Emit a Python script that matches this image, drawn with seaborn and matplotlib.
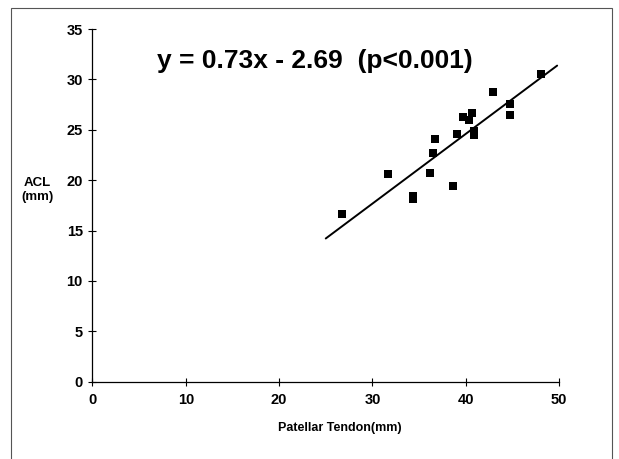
# Import Libraries
import numpy as np
import pandas as pd
import matplotlib.pyplot as plt
import seaborn as sns
from matplotlib.patches import Rectangle

# -------------------------------
# Data
# -------------------------------

patellar_tendon = [26.7, 31.7, 34.4, 34.4, 36.2, 36.5, 36.7, 38.6, 39.1,
                   39.7, 40.3, 40.7, 40.9, 40.9, 42.9, 44.7, 44.8, 48.1]
acl = [16.6, 20.6, 18.1, 18.4, 20.7, 22.7, 24.1, 19.4, 24.6,
       26.3, 26.0, 26.7, 24.5, 24.9, 28.7, 27.6, 26.5, 30.5]

fit_range = [25.0, 49.8]
x_ticks = [0, 10, 20, 30, 40, 50]
y_ticks = [0, 5, 10, 15, 20, 25, 30, 35]
equation = "y = 0.73x - 2.69  (p<0.001)"

df = pd.DataFrame({"Patellar Tendon": patellar_tendon, "ACL": acl})

# Least squares line through the points
slope, intercept = np.polyfit(df["Patellar Tendon"], df["ACL"], 1)
line_x = np.array(fit_range)
line_df = pd.DataFrame({"x": line_x, "y": slope * line_x + intercept})

# -------------------------------
# Plot
# -------------------------------

sns.set_style("white")
plt.rcParams["font.family"] = ["Liberation Sans", "DejaVu Sans"]
plt.rcParams["text.color"] = "black"

fig = plt.figure(figsize=(6.19, 4.59), dpi=100)
ax = fig.add_axes([0.1494, 0.1684, 0.7537, 0.7684])

sns.scatterplot(data=df, x="Patellar Tendon", y="ACL", marker="s", s=26,
                color="black", edgecolor="black", linewidth=0, ax=ax, zorder=3)
sns.lineplot(data=line_df, x="x", y="y", color="black", linewidth=1.4, ax=ax)

ax.set_xlim(0, 50)
ax.set_ylim(0, 35)
ax.set_xticks(x_ticks)
ax.set_yticks(y_ticks)
ax.set_xticklabels(x_ticks, fontsize=10.5, fontweight="bold", color="black")
ax.set_yticklabels(y_ticks, fontsize=10.5, fontweight="bold", color="black")
ax.tick_params(bottom=True, left=True, direction="inout", length=6,
               width=0.8, color="black")
ax.tick_params(axis="x", pad=5)
ax.tick_params(axis="y", pad=4)

for side in ["top", "right"]:
    ax.spines[side].set_visible(False)
for side in ["left", "bottom"]:
    ax.spines[side].set_color("black")
    ax.spines[side].set_linewidth(0.9)

ax.set_xlabel("Patellar Tendon(mm)", fontsize=9, fontweight="bold", color="black")
ax.xaxis.set_label_coords(0.53, -0.113)
ax.set_ylabel("")
fig.text(37 / 619, 1 - 190 / 459, "ACL\n(mm)", fontsize=9.5, fontweight="bold",
         ha="center", va="center")

fig.text(157 / 619, 1 - 61 / 459, equation, fontsize=19, fontweight="bold",
         ha="left", va="center")

# Outer frame of the chart
fig.patches.append(Rectangle((11 / 619, -0.01), 601 / 619, 1 - 8 / 459 + 0.01,
                             transform=fig.transFigure, fill=False,
                             edgecolor="#555555", linewidth=0.8))

plt.savefig("out.png", dpi=100)
